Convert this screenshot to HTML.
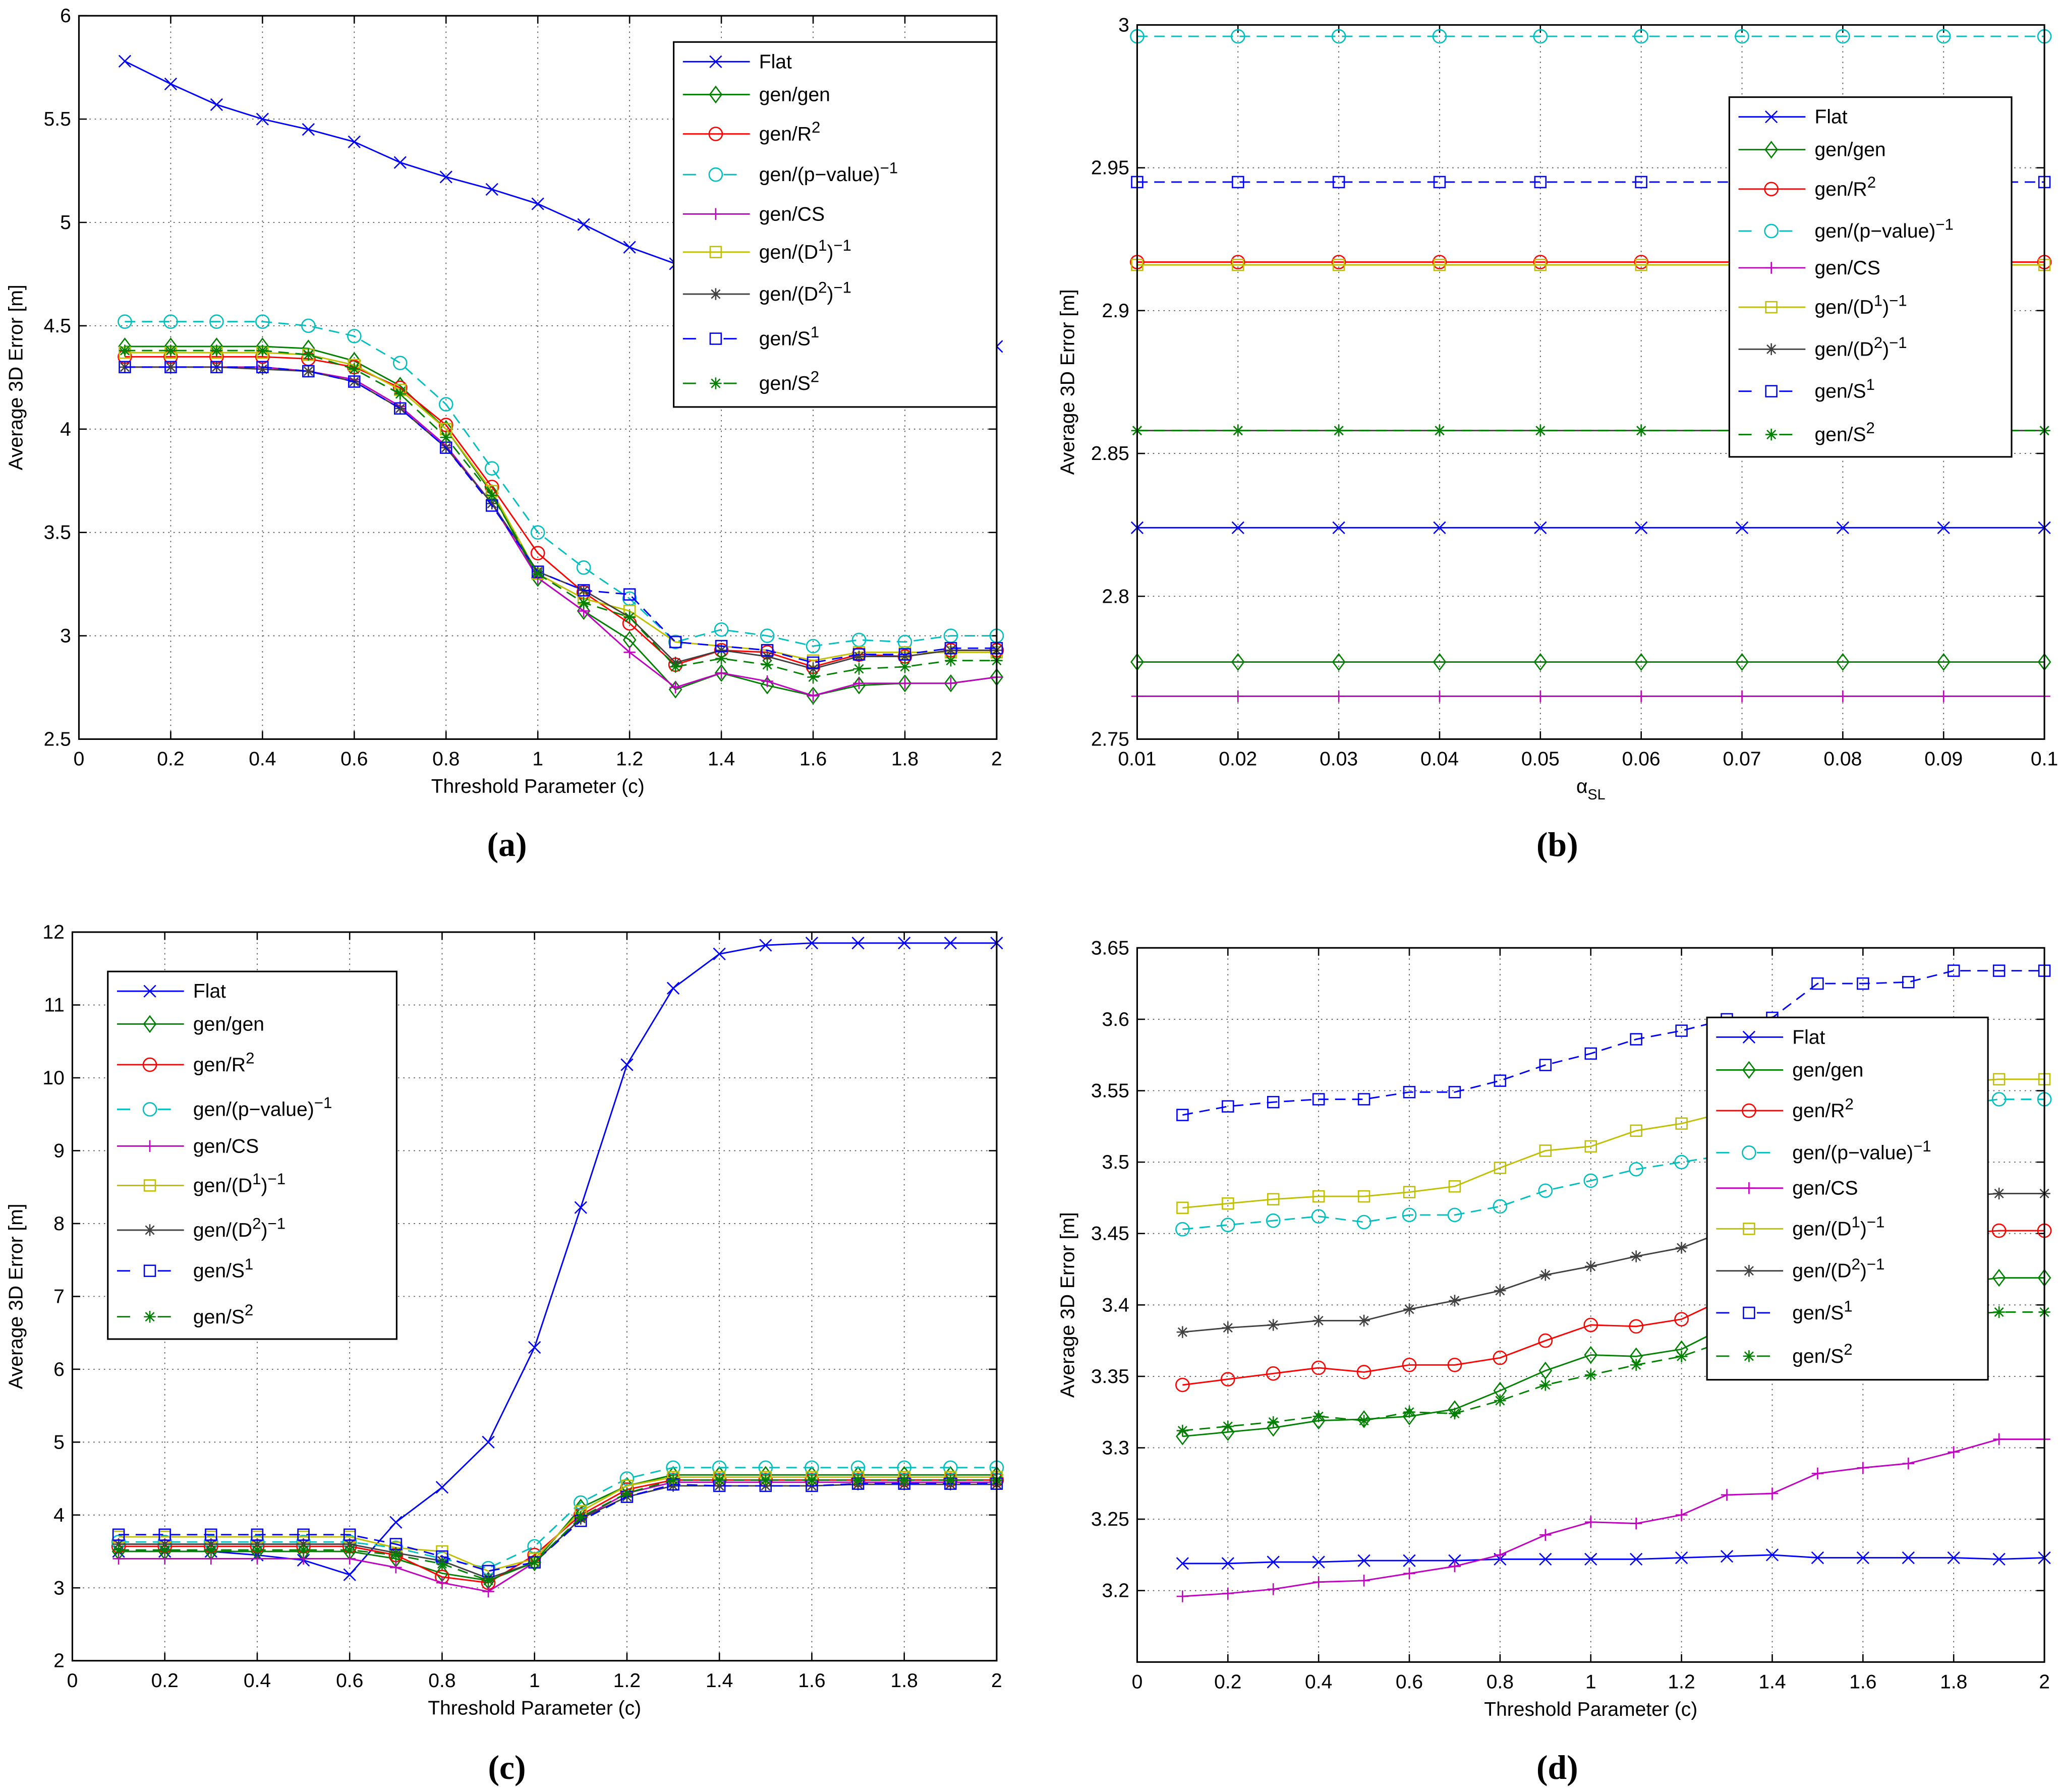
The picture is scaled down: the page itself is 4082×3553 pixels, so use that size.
<!DOCTYPE html>
<html><head><meta charset="utf-8"><style>
html,body{margin:0;padding:0;background:#fff;}
svg{display:block;font-family:"Liberation Sans",sans-serif;}
</style></head><body>
<svg id="fig" width="4082" height="3553" viewBox="0 0 1568 1365" xmlns="http://www.w3.org/2000/svg"></svg>
<script>
// ---------- data ----------
const xThresh = [0.1,0.2,0.3,0.4,0.5,0.6,0.7,0.8,0.9,1.0,1.1,1.2,1.3,1.4,1.5,1.6,1.7,1.8,1.9,2.0];
const xAlpha = [0.01,0.02,0.03,0.04,0.05,0.06,0.07,0.08,0.09,0.1];
const seriesNames = ["Flat","gen/gen","gen/R2","gen/(p-value)-1","gen/CS","gen/(D1)-1","gen/(D2)-1","gen/S1","gen/S2"];

const aFlat=[5.78,5.67,5.57,5.50,5.45,5.39,5.29,5.22,5.16,5.09,4.99,4.88,4.80,4.74,4.70,4.65,4.60,4.55,4.48,4.40];
const aGen=[4.40,4.40,4.40,4.40,4.39,4.33,4.21,4.00,3.69,3.28,3.12,2.98,2.74,2.82,2.76,2.71,2.76,2.77,2.77,2.80];
const aR2=[4.35,4.35,4.35,4.35,4.34,4.30,4.20,4.02,3.72,3.40,3.21,3.06,2.86,2.93,2.92,2.85,2.91,2.90,2.93,2.93];
const aP=[4.52,4.52,4.52,4.52,4.50,4.45,4.32,4.12,3.81,3.50,3.33,3.18,2.97,3.03,3.00,2.95,2.98,2.97,3.00,3.00];
const aCS=[4.30,4.30,4.30,4.30,4.28,4.24,4.11,3.92,3.64,3.28,3.12,2.92,2.75,2.82,2.78,2.71,2.77,2.77,2.77,2.80];
const aD1=[4.37,4.37,4.37,4.37,4.36,4.31,4.19,4.00,3.70,3.30,3.18,3.12,2.97,2.95,2.93,2.88,2.92,2.92,2.92,2.92];
const aD2=[4.30,4.30,4.30,4.29,4.28,4.23,4.10,3.91,3.64,3.31,3.22,3.09,2.87,2.93,2.90,2.84,2.90,2.90,2.93,2.93];
const aS1=[4.30,4.30,4.30,4.30,4.28,4.23,4.10,3.91,3.63,3.31,3.22,3.20,2.97,2.95,2.93,2.87,2.91,2.91,2.94,2.94];
const aS2=[4.38,4.38,4.38,4.38,4.36,4.29,4.17,3.96,3.68,3.30,3.16,3.09,2.85,2.89,2.86,2.80,2.84,2.85,2.88,2.88];

const bLevels=[2.824,2.777,2.917,2.996,2.765,2.916,2.858,2.945,2.858];

const cFlat=[3.5,3.5,3.5,3.45,3.38,3.18,3.9,4.38,5.0,6.3,8.22,10.18,11.23,11.7,11.82,11.85,11.85,11.85,11.85,11.85];
const cGen=[3.5,3.5,3.5,3.5,3.5,3.5,3.4,3.2,3.1,3.35,4.1,4.4,4.55,4.55,4.55,4.55,4.55,4.55,4.55,4.55];
const cR2=[3.57,3.57,3.57,3.57,3.57,3.57,3.45,3.15,3.07,3.45,4.0,4.35,4.48,4.48,4.48,4.48,4.48,4.48,4.48,4.48];
const cP=[3.63,3.63,3.63,3.63,3.63,3.63,3.55,3.4,3.27,3.57,4.17,4.5,4.65,4.65,4.65,4.65,4.65,4.65,4.65,4.65];
const cCS=[3.4,3.4,3.4,3.4,3.4,3.4,3.28,3.07,2.95,3.35,3.95,4.3,4.45,4.45,4.45,4.45,4.45,4.45,4.45,4.45];
const cD1=[3.7,3.7,3.7,3.7,3.7,3.7,3.55,3.5,3.23,3.4,4.05,4.4,4.52,4.52,4.52,4.52,4.52,4.52,4.52,4.52];
const cD2=[3.6,3.6,3.6,3.6,3.6,3.6,3.48,3.37,3.13,3.35,3.95,4.25,4.4,4.4,4.4,4.4,4.42,4.42,4.42,4.42];
const cS1=[3.73,3.73,3.73,3.73,3.73,3.73,3.6,3.43,3.23,3.35,3.92,4.25,4.42,4.4,4.4,4.4,4.43,4.43,4.43,4.43];
const cS2=[3.52,3.52,3.52,3.52,3.52,3.52,3.45,3.33,3.1,3.35,3.97,4.3,4.48,4.48,4.48,4.48,4.48,4.48,4.48,4.48];

const dFlat=[3.219,3.219,3.220,3.220,3.221,3.221,3.221,3.222,3.222,3.222,3.222,3.223,3.224,3.225,3.223,3.223,3.223,3.223,3.222,3.223];
const dGen=[3.308,3.311,3.314,3.319,3.320,3.322,3.327,3.340,3.354,3.365,3.364,3.369,3.385,3.39,3.40,3.405,3.41,3.415,3.419,3.419];
const dR2=[3.344,3.348,3.352,3.356,3.353,3.358,3.358,3.363,3.375,3.386,3.385,3.390,3.405,3.41,3.42,3.43,3.44,3.45,3.452,3.452];
const dP=[3.453,3.456,3.459,3.462,3.458,3.463,3.463,3.469,3.480,3.487,3.495,3.500,3.505,3.51,3.52,3.53,3.535,3.54,3.544,3.544];
const dCS=[3.196,3.198,3.201,3.206,3.207,3.212,3.217,3.225,3.239,3.248,3.247,3.253,3.267,3.268,3.282,3.286,3.289,3.297,3.306,3.306];
const dD1=[3.468,3.471,3.474,3.476,3.476,3.479,3.483,3.496,3.508,3.511,3.522,3.527,3.535,3.54,3.545,3.55,3.553,3.556,3.558,3.558];
const dD2=[3.381,3.384,3.386,3.389,3.389,3.397,3.403,3.410,3.421,3.427,3.434,3.440,3.452,3.46,3.465,3.47,3.473,3.476,3.478,3.478];
const dS1=[3.533,3.539,3.542,3.544,3.544,3.549,3.549,3.557,3.568,3.576,3.586,3.592,3.600,3.601,3.625,3.625,3.626,3.634,3.634,3.634];
const dS2=[3.312,3.315,3.318,3.322,3.319,3.325,3.324,3.333,3.344,3.351,3.358,3.364,3.375,3.38,3.385,3.388,3.39,3.393,3.395,3.395];

const ticksThreshX=[0,0.2,0.4,0.6,0.8,1,1.2,1.4,1.6,1.8,2];
const ticksAlphaX=[0.01,0.02,0.03,0.04,0.05,0.06,0.07,0.08,0.09,0.1];
const ticksAY=[2.5,3,3.5,4,4.5,5,5.5,6];
const ticksBY=[2.75,2.8,2.85,2.9,2.95,3];
const ticksCY=[2,3,4,5,6,7,8,9,10,11,12];
const ticksDY=[3.2,3.25,3.3,3.35,3.4,3.45,3.5,3.55,3.6,3.65];

// ---------- styles ----------
const styles=[
 {c:"#0000ff",m:"x",dash:null},
 {c:"#008000",m:"diamond",dash:null},
 {c:"#ff0000",m:"circle",dash:null},
 {c:"#00bfbf",m:"circle",dash:"8,5"},
 {c:"#bf00bf",m:"plus",dash:null},
 {c:"#bfbf00",m:"square",dash:null},
 {c:"#404040",m:"star",dash:null},
 {c:"#0000ff",m:"square",dash:"8,5"},
 {c:"#008000",m:"star",dash:"8,5"}
];
const NS="http://www.w3.org/2000/svg";
const fig=document.getElementById('fig');
function mk(tag,attrs,parent){const e=document.createElementNS(NS,tag);for(const k in attrs)e.setAttribute(k,attrs[k]);(parent||fig).appendChild(e);return e;}

function marker(g,type,x,y,c){
  const r=4.5;let e;
  if(type==="x"){e=mk('path',{d:`M${x-r} ${y-r}L${x+r} ${y+r}M${x-r} ${y+r}L${x+r} ${y-r}`,stroke:c,'stroke-width':1,fill:'none'},g);}
  else if(type==="plus"){e=mk('path',{d:`M${x-r} ${y}L${x+r} ${y}M${x} ${y-r}L${x} ${y+r}`,stroke:c,'stroke-width':1,fill:'none'},g);}
  else if(type==="star"){e=mk('path',{d:`M${x-r} ${y}L${x+r} ${y}M${x} ${y-r}L${x} ${y+r}M${x-3.3} ${y-3.3}L${x+3.3} ${y+3.3}M${x-3.3} ${y+3.3}L${x+3.3} ${y-3.3}`,stroke:c,'stroke-width':1,fill:'none'},g);}
  else if(type==="circle"){e=mk('circle',{cx:x,cy:y,r:5,stroke:c,'stroke-width':1,fill:'none'},g);}
  else if(type==="square"){e=mk('rect',{x:x-4.2,y:y-4.2,width:8.4,height:8.4,stroke:c,'stroke-width':1,fill:'none'},g);}
  else if(type==="diamond"){e=mk('path',{d:`M${x} ${y-6}L${x+4.5} ${y}L${x} ${y+6}L${x-4.5} ${y}Z`,stroke:c,'stroke-width':1,fill:'none'},g);}
  
  
}

function legendLabel(t,x,y,name){
  const te=mk('text',{x:x,y:y,'font-size':15,fill:'#000'},t);
  
  
  const map={"gen/R2":["gen/R","2"],"gen/(p-value)-1":["gen/(p\u2212value)","\u22121"],"gen/S1":["gen/S","1"],"gen/S2":["gen/S","2"]};
  const sup=(s)=>{const ts=mk('tspan',{dy:-6,'font-size':12},te);ts.textContent=s;};
  const base=(s,dy)=>{const ts=mk('tspan',dy?{dy:dy}:{},te);ts.textContent=s;};
  if(name==="gen/(D1)-1"||name==="gen/(D2)-1"){base("gen/(D");sup(name[6]);base(")",6);sup("\u22121");}
  else if(map[name]){base(map[name][0]);sup(map[name][1]);}
  else te.textContent=name;
}

function panel(p){
  const g=mk('g',{});
  
  
  const sx=v=>p.L+(v-p.xmin)/(p.xmax-p.xmin)*(p.R-p.L);
  const sy=v=>p.B-(v-p.ymin)/(p.ymax-p.ymin)*(p.B-p.T);
  p.xt.forEach(v=>{const X=sx(v);
    const l=mk('line',{x1:X,y1:p.T,x2:X,y2:p.B,stroke:'#555','stroke-width':0.7,'stroke-dasharray':'1,3'},g);
    
    
    mk('line',{x1:X,y1:p.B,x2:X,y2:p.B-6,stroke:'#000','stroke-width':1},g);
    mk('line',{x1:X,y1:p.T,x2:X,y2:p.T+6,stroke:'#000','stroke-width':1},g);
    const t=mk('text',{x:X,y:p.B+20,'text-anchor':'middle','font-size':15},g);t.textContent=p.xfmt(v);
    
    
  });
  p.yt.forEach(v=>{const Y=sy(v);
    const l=mk('line',{x1:p.L,y1:Y,x2:p.R,y2:Y,stroke:'#555','stroke-width':0.7,'stroke-dasharray':'1,3'},g);
    
    
    mk('line',{x1:p.L,y1:Y,x2:p.L+6,y2:Y,stroke:'#000','stroke-width':1},g);
    mk('line',{x1:p.R,y1:Y,x2:p.R-6,y2:Y,stroke:'#000','stroke-width':1},g);
    const t=mk('text',{x:p.L-6,y:Y+5,'text-anchor':'end','font-size':15},g);t.textContent=String(v);
    
    
  });
  p.series.forEach((vals,i)=>{
    const st=styles[i];
    const sg=mk('g',{},g);
    
    
    const pts=vals.map((v,k)=>sx(p.x[k]).toFixed(2)+','+sy(v).toFixed(2)).join(' ');
    const a={points:pts,fill:'none',stroke:st.c,'stroke-width':1.1};
    if(st.dash)a['stroke-dasharray']=st.dash;
    mk('polyline',a,sg);
    vals.forEach((v,k)=>marker(sg,st.m,sx(p.x[k]),sy(v),st.c));
  });
  const xl=mk('text',{x:(p.L+p.R)/2,y:p.B+41,'text-anchor':'middle','font-size':15},g);
  
  
  if(p.alpha){xl.textContent='\u03b1';const s=mk('tspan',{dy:5,'font-size':11},xl);s.textContent='SL';}
  else xl.textContent='Threshold Parameter (c)';
  const yl=mk('text',{x:0,y:0,'text-anchor':'middle','font-size':15,transform:`translate(${p.L-p.ylOff},${(p.T+p.B)/2}) rotate(-90)`},g);
  yl.textContent='Average 3D Error [m]';
  
  
  const cap=mk('text',{x:p.capX,y:p.capY,'text-anchor':'middle','font-size':26,'font-weight':'bold','font-family':'Liberation Serif, serif'},g);
  cap.textContent=p.cap;
  
  
  const lg=mk('g',{},g);
  
  
  mk('rect',{x:p.lg[0],y:p.lg[1],width:p.lg[2]-p.lg[0],height:p.lg[3]-p.lg[1],fill:'#fff',stroke:'#000','stroke-width':1.2},lg);
  p.ly.forEach((yy,i)=>{
    const st=styles[i];const x0=p.lg[0]+7;
    const e=mk('g',{},lg);
    
    
    const a={x1:x0,y1:yy,x2:x0+51,y2:yy,stroke:st.c,'stroke-width':1.1};
    if(st.dash)a['stroke-dasharray']='10,21';
    mk('line',a,e);
    marker(e,st.m,x0+25,yy,st.c);
    legendLabel(e,x0+58,yy+5,seriesNames[i]);
  });
  const bx=mk('rect',{x:p.L,y:p.T,width:p.R-p.L,height:p.B-p.T,fill:'none',stroke:'#000','stroke-width':1.2},g);
  
  
}

panel({id:'panel-a',L:60,R:759,T:12,B:563,xmin:0,xmax:2,ymin:2.5,ymax:6,xt:ticksThreshX,yt:ticksAY,xfmt:v=>String(v),x:xThresh,
 series:[aFlat,aGen,aR2,aP,aCS,aD1,aD2,aS1,aS2],ylOff:43,cap:'(a)',capX:386,capY:652,
 lg:[513,32,759,310],ly:[47,72,102,133,163,192,224,258,292]});
panel({id:'panel-b',L:866,R:1557,T:19,B:563,xmin:0.01,xmax:0.1,ymin:2.75,ymax:3,xt:ticksAlphaX,yt:ticksBY,xfmt:v=>String(v),x:xAlpha,alpha:true,
 series:bLevels.map(v=>xAlpha.map(()=>v)),ylOff:48,cap:'(b)',capX:1186,capY:652,
 lg:[1317,74,1532,348],ly:[89,114,144,176,204,234,266,298,331]});
panel({id:'panel-c',L:55,R:759,T:710,B:1265,xmin:0,xmax:2,ymin:2,ymax:12,xt:ticksThreshX,yt:ticksCY,xfmt:v=>String(v),x:xThresh,
 series:[cFlat,cGen,cR2,cP,cCS,cD1,cD2,cS1,cS2],ylOff:38,cap:'(c)',capX:386,capY:1355,
 lg:[82,740,302,1020],ly:[755,780,811,845,873,903,937,968,1003]});
panel({id:'panel-d',L:866,R:1557,T:722,B:1266,xmin:0,xmax:2,ymin:3.15,ymax:3.65,xt:ticksThreshX,yt:ticksDY,xfmt:v=>String(v),x:xThresh,
 series:[dFlat,dGen,dR2,dP,dCS,dD1,dD2,dS1,dS2],ylOff:48,cap:'(d)',capX:1186,capY:1355,
 lg:[1300,775,1514,1051],ly:[790,815,846,878,905,936,968,1000,1033]});
</script>
</body></html>
